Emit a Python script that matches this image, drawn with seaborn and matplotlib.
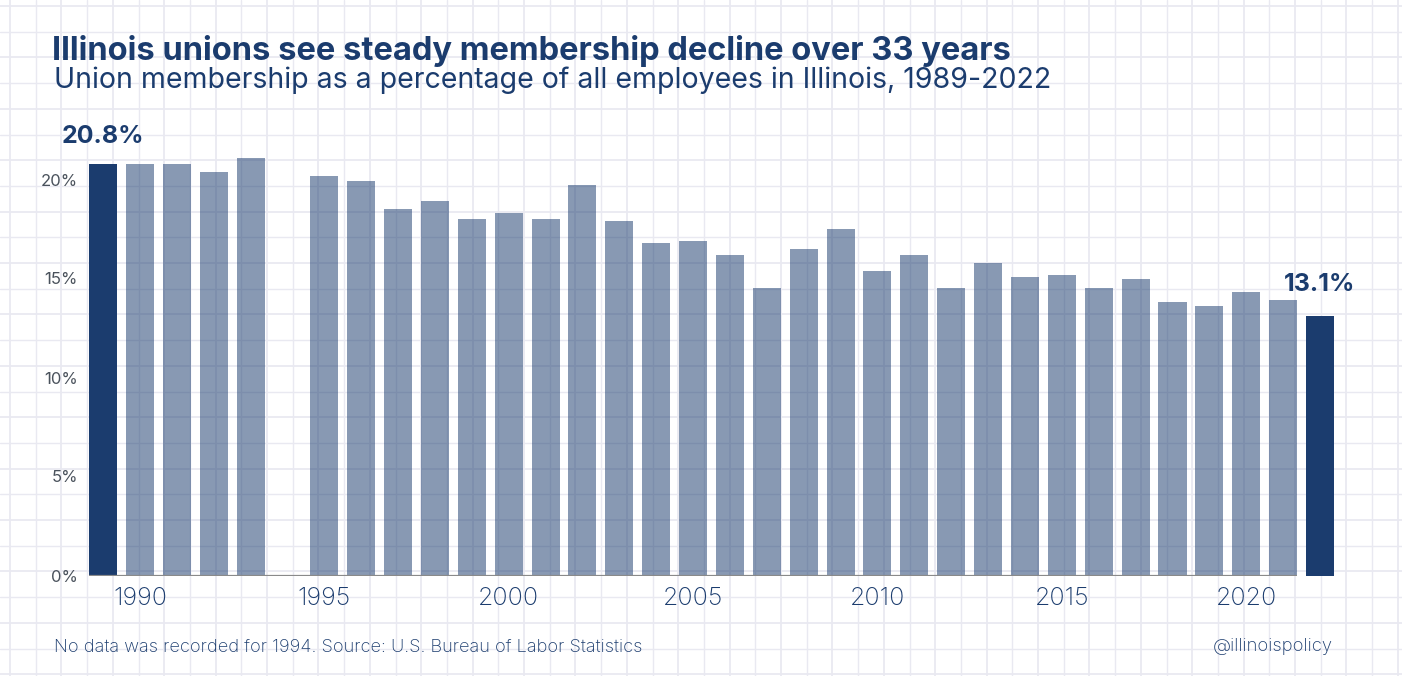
import numpy as np
import pandas as pd
import matplotlib
matplotlib.use("Agg")
import matplotlib.pyplot as plt
import seaborn as sns

# ---- data ----
years = [1989, 1990, 1991, 1992, 1993, 1995, 1996, 1997, 1998, 1999, 2000,
         2001, 2002, 2003, 2004, 2005, 2006, 2007, 2008, 2009, 2010, 2011,
         2012, 2013, 2014, 2015, 2016, 2017, 2018, 2019, 2020, 2021, 2022]
membership = [20.8, 20.8, 20.8, 20.4, 21.1, 20.2, 19.9, 18.5, 18.9, 18.0, 18.3,
              18.0, 19.7, 17.9, 16.8, 16.9, 16.2, 14.5, 16.5, 17.5, 15.4, 16.2,
              14.5, 15.8, 15.1, 15.2, 14.5, 15.0, 13.8, 13.6, 14.3, 13.9, 13.1]
yticks = [0, 5, 10, 15, 20]
xticks = [1990, 1995, 2000, 2005, 2010, 2015, 2020]

title = "Illinois unions see steady membership decline over 33 years"
subtitle = "Union membership as a percentage of all employees in Illinois, 1989-2022"
footer = "No data was recorded for 1994. Source: U.S. Bureau of Labor Statistics"
credit = "@illinoispolicy"

NAVY = "#1b3c6e"
GRID = "#e9e9f1"

sns.set_theme(style="white")
plt.rcParams["font.family"] = ["Inter", "DejaVu Sans"]

df = pd.DataFrame({"year": years, "value": membership})
df["highlight"] = (df["year"] == df["year"].min()) | (df["year"] == df["year"].max())

W, H = 1402, 676
fig = plt.figure(figsize=(W / 100, H / 100), dpi=100)
fig.patch.set_facecolor("white")

# graph-paper background
bg = fig.add_axes([0, 0, 1, 1], zorder=0)
bg.set_xlim(0, W)
bg.set_ylim(H, 0)
bg.axis("off")
step = 25.7
for i, x in enumerate(np.arange(10, W, step)):
    bg.axvline(x, color=GRID, lw=1.0 if i % 2 else 1.3, zorder=0)
for i, y in enumerate(np.arange(6, H, step)):
    bg.axhline(y, color=GRID, lw=1.0 if i % 2 else 1.3, zorder=0)

# main axes
left_px, right_px = 85, 1380
base_px, ppu = 575.5, 19.8
ymax = 22
top_px = base_px - ymax * ppu
ax = fig.add_axes([left_px / W, (H - base_px) / H, (right_px - left_px) / W,
                   (base_px - top_px) / H], zorder=1)
ax.patch.set_alpha(0)

sns.barplot(data=df, x="year", y="value", hue="highlight", native_scale=True,
            width=0.76, dodge=False, palette={True: NAVY, False: NAVY},
            saturation=1, ax=ax, errorbar=None, legend=False, linewidth=0)

hl_years = set(df.loc[df["highlight"], "year"])
for p in ax.patches:
    cx = p.get_x() + p.get_width() / 2
    if round(cx) not in hl_years:
        p.set_alpha(0.52)

ax.set_xlim(1989 - 18 / 36.88, 2022 + 60 / 36.88)
ax.set_ylim(0, ymax)
ax.set_xticks(xticks)
ax.set_xticklabels([str(t) for t in xticks])
ax.set_yticks(yticks)
ax.set_yticklabels([f"{t}%" for t in yticks])
ax.set_xlabel("")
ax.set_ylabel("")
for s in ax.spines.values():
    s.set_visible(False)
ax.grid(False)
ax.tick_params(axis="x", length=0, pad=8, labelsize=18, labelcolor=NAVY)
ax.tick_params(axis="y", length=0, pad=5, labelsize=12, labelcolor="#4a525c")
for lab in ax.get_xticklabels():
    lab.set_fontweight("light")

# baseline under the light bars
ax.plot([years[0] - 0.38, years[-2] + 0.38], [0, 0], color="#8a8a8a", lw=1.6,
        zorder=3, solid_capstyle="butt")

# labels on first and last bars
hl = df[df["highlight"]].reset_index(drop=True)
for i, r in hl.iterrows():
    ax.annotate(f"{r['value']:.1f}%", (r["year"], r["value"]),
                xytext=(0, 15 if i == 0 else 18), textcoords="offset points",
                ha="center", va="baseline", fontsize=18, fontweight="bold",
                color=NAVY)

# titles & footer
fig.text(52 / W, 1 - 60 / H, title, fontsize=23.5, fontweight="bold", color=NAVY,
         ha="left", va="baseline")
fig.text(54 / W, 1 - 88 / H, subtitle, fontsize=20.5, color=NAVY,
         ha="left", va="baseline")
fig.text(54 / W, 1 - 652 / H, footer, fontsize=13.1, color=NAVY,
         ha="left", va="baseline", fontweight="light")
fig.text(1333 / W, 1 - 651 / H, credit, fontsize=13.3, color=NAVY,
         ha="right", va="baseline", fontweight="light")

fig.savefig("out.png", dpi=100, facecolor="white")
